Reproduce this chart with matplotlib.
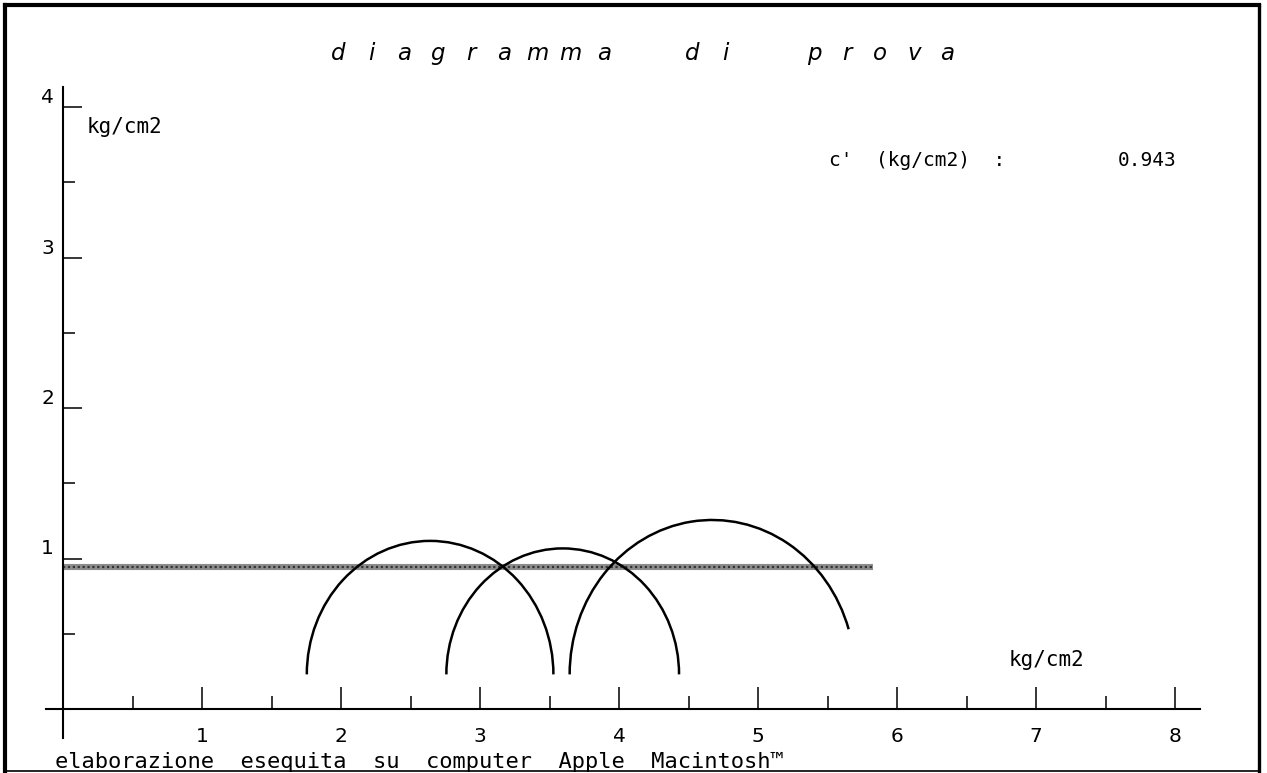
import matplotlib.pyplot as plt
from matplotlib.patches import Arc
from matplotlib.lines import Line2D

# Mohr circles (kg/cm2)
centers = [2.641, 3.595, 4.671]
radii = [0.887, 0.837, 1.026]
start_angles = [0, 0, 17]
center_y = 0.23

# envelope c'
c_prime = 0.943
line_end = 5.83

x_major = [1, 2, 3, 4, 5, 6, 7, 8]
x_minor = [0.5, 1.5, 2.5, 3.5, 4.5, 5.5, 6.5, 7.5]
y_major = [1, 2, 3, 4]
y_minor = [0.5, 1.5, 2.5, 3.5]

title = "d  i  a  g  r  a  m  m  a       d  i       p  r  o  v  a"
footer = "elaborazione  esequita  su  computer  Apple  Macintosh\u2122"
unit = "kg/cm2"

W, H = 1267, 773
fig = plt.figure(figsize=(W / 100, H / 100), dpi=100)
ax = fig.add_axes([0, 0, 1, 1])

# pixel mapping: x0 = 63 px, 139 px per unit; y0 = 709 px, 150.5 px per unit
ax.set_xlim(-63 / 139, (W - 63) / 139)
ax.set_ylim(-(H - 709) / 150.5, 709 / 150.5)

for s in ['top', 'right']:
    ax.spines[s].set_visible(False)
ax.spines['left'].set_position(('data', 0))
ax.spines['bottom'].set_position(('data', 0))
ax.spines['left'].set_bounds(-0.19, 4.13)
ax.spines['bottom'].set_bounds(-0.12, 8.18)
ax.spines['left'].set_linewidth(1.5)
ax.spines['bottom'].set_linewidth(1.5)

ax.set_xticks(x_major)
ax.set_xticks(x_minor, minor=True)
ax.set_yticks(y_major)
ax.set_yticks(y_minor, minor=True)
ax.set_xticklabels([str(v) for v in x_major])
ax.set_yticklabels([str(v) for v in y_major])

ax.tick_params(axis='x', which='major', direction='in', length=15.8, width=1.1, pad=13, labelsize=14.5)
ax.tick_params(axis='x', which='minor', direction='in', length=9.4, width=1.1)
ax.tick_params(axis='y', which='major', direction='in', length=13.5, width=1.1, pad=6.5, labelsize=14.5)
ax.tick_params(axis='y', which='minor', direction='in', length=8.6, width=1.1)
for lab in ax.get_yticklabels():
    lab.set_va('bottom')

# c' line (textured grey)
ax.plot([0, line_end], [c_prime, c_prime], color='#8c8c8c', lw=4.4, solid_capstyle='butt', zorder=2)
ax.plot([0, line_end], [c_prime, c_prime], color='#333333', lw=1.6, ls=(0, (1, 1.2)), zorder=2)

for cx, r, a0 in zip(centers, radii, start_angles):
    ax.add_patch(Arc((cx, center_y), 2 * r, 2 * r, theta1=a0, theta2=180,
                     color='black', lw=1.8, zorder=3))

mono = 'DejaVu Sans Mono'
ax.text(0.17, 3.87, unit, family=mono, fontsize=15, ha='left', va='center')
ax.text(6.80, 0.326, unit, family=mono, fontsize=15, ha='left', va='center')
ax.text(5.51, 3.61, "c'  (kg/cm2)  :", family=mono, fontsize=14, ha='left', va='baseline')
ax.text(8.01, 3.61, f"{c_prime:.3f}", family=mono, fontsize=14, ha='right', va='baseline')

# spaced italic title, one letter per character cell
step = 11.07
for i, ch in enumerate(title):
    if ch != ' ':
        fig.text((338 + i * step) / W, 1 - 60 / H, ch, family='DejaVu Sans', style='oblique',
                 fontsize=16.5, ha='center', va='baseline')

fig.text(55 / W, 1 - 768 / H, footer, family=mono, fontsize=15.8, ha='left', va='baseline')

# frame
def px(x, y):
    return x / W, 1 - y / H

for (x1, y1), (x2, y2), lw in [((5, 5), (1259, 5), 3.0), ((5, 5), (5, 773), 3.0),
                               ((1259, 5), (1259, 773), 2.4), ((5, 771), (1259, 771), 1.2)]:
    (fx1, fy1), (fx2, fy2) = px(x1, y1), px(x2, y2)
    fig.add_artist(Line2D([fx1, fx2], [fy1, fy2], transform=fig.transFigure,
                          color='black', lw=lw, solid_capstyle='projecting'))

fig.savefig('out.png', dpi=100)
